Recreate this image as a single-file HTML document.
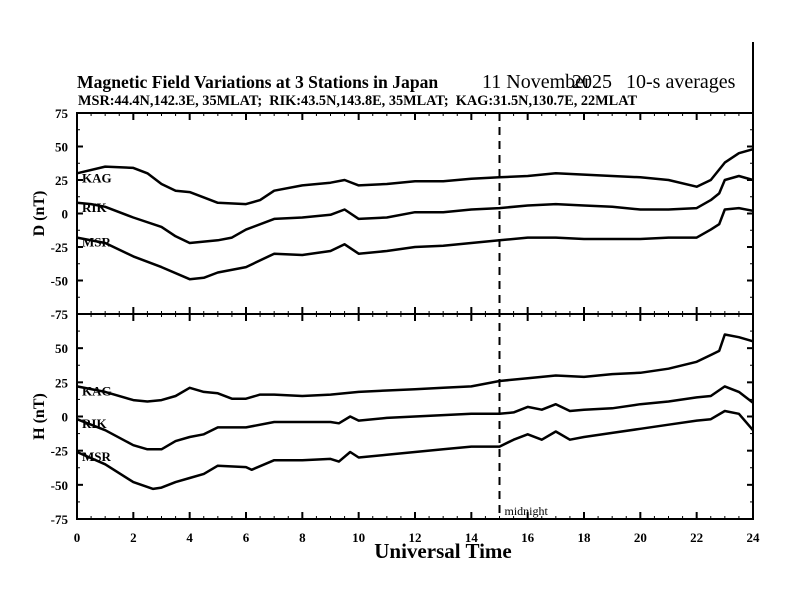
<!DOCTYPE html>
<html><head><meta charset="utf-8"><style>
body{margin:0;background:#fff;}
svg{display:block;font-family:"Liberation Serif",serif;}
</style></head><body>
<svg id="chart" width="792" height="612" viewBox="0 0 792 612">
<text x="77" y="88" font-size="17.6" font-weight="bold">Magnetic Field Variations at 3 Stations in Japan</text>
<text x="482" y="88" font-size="20">11 November</text>
<text x="572" y="88" font-size="20">2025</text>
<text x="626" y="88" font-size="20">10-s averages</text>
<text x="78" y="105" font-size="14.3" font-weight="bold" style="white-space:pre">MSR:44.4N,142.3E, 35MLAT;  RIK:43.5N,143.8E, 35MLAT;  KAG:31.5N,130.7E, 22MLAT</text>
<g id="axes"></g>
<g id="series"></g>
</svg>
<script>
const hours=[0,2,4,6,8,10,12,14,16,18,20,22,24];
const yTicks=[75,50,25,0,-25,-50,-75];
const dT_KAG=[[0,30],[1,35],[2,34],[2.5,30],[3,22],[3.5,17],[4,16],[4.5,12],[5,8],[6,7],[6.5,10],[7,17],[8,21],[9,23],[9.5,25],[10,21],[11,22],[12,24],[13,24],[14,26],[15,27],[16,28],[17,30],[18,29],[19,28],[20,27],[21,25],[22,20],[22.5,25],[23,38],[23.5,45],[24,48]];
const dT_RIK=[[0,8],[0.5,7],[1,5],[2,-3],[3,-10],[3.5,-17],[4,-22],[5,-20],[5.5,-18],[6,-12],[7,-4],[8,-3],[9,-1],[9.5,3],[10,-4],[11,-3],[12,1],[13,1],[14,3],[15,4],[16,6],[17,7],[18,6],[19,5],[20,3],[21,3],[22,4],[22.5,10],[22.8,15],[23,25],[23.5,28],[24,25]];
const dT_MSR=[[0,-18],[1,-22],[2,-32],[3,-40],[4,-49],[4.5,-48],[5,-44],[6,-40],[7,-30],[8,-31],[9,-28],[9.5,-23],[10,-30],[11,-28],[12,-25],[13,-24],[14,-22],[15,-20],[16,-18],[17,-18],[18,-19],[19,-19],[20,-19],[21,-18],[22,-18],[22.5,-12],[22.8,-8],[23,3],[23.5,4],[24,2]];
const hT_KAG=[[0,22],[1,18],[2,12],[2.5,11],[3,12],[3.5,15],[4,21],[4.5,18],[5,17],[5.5,13],[6,13],[6.5,16],[7,16],[8,15],[9,16],[9.5,17],[10,18],[11,19],[12,20],[13,21],[14,22],[15,26],[16,28],[17,30],[18,29],[19,31],[20,32],[21,35],[22,40],[22.5,45],[22.8,48],[23,60],[23.5,58],[24,55]];
const hT_RIK=[[0,-2],[1,-10],[2,-21],[2.5,-24],[3,-24],[3.5,-18],[4,-15],[4.5,-13],[5,-8],[6,-8],[7,-4],[8,-4],[9,-4],[9.3,-5],[9.7,0],[10,-3],[11,-1],[12,0],[13,1],[14,2],[15,2],[15.5,3],[16,7],[16.5,5],[17,9],[17.5,4],[18,5],[19,6],[20,9],[21,11],[22,14],[22.5,15],[23,22],[23.5,18],[24,10]];
const hT_MSR=[[0,-26],[1,-35],[2,-48],[2.7,-53],[3,-52],[3.5,-48],[4,-45],[4.5,-42],[5,-36],[6,-37],[6.2,-39],[7,-32],[8,-32],[9,-31],[9.3,-33],[9.7,-26],[10,-30],[11,-28],[12,-26],[13,-24],[14,-22],[15,-22],[15.5,-17],[16,-13],[16.5,-17],[17,-11],[17.5,-17],[18,-15],[19,-12],[20,-9],[21,-6],[22,-3],[22.5,-2],[23,4],[23.5,2],[24,-10]];
const NS="http://www.w3.org/2000/svg";
const X0=77,X1=753;
const panels=[{top:113,bot:314,name:'d-panel',label:'D (nT)'},{top:314,bot:519,name:'h-panel',label:'H (nT)'}];
function xs(h){return X0+(X1-X0)*h/24;}
function ys(p,v){return p.bot-(v+75)/150*(p.bot-p.top);}
function mk(tag,attrs,parent){const e=document.createElementNS(NS,tag);for(const k in attrs)e.setAttribute(k,attrs[k]);parent.appendChild(e);return e;}
const ax=document.getElementById('axes'),sg=document.getElementById('series');
let f=mk('rect',{x:X0,y:113,width:X1-X0,height:406,fill:'none',stroke:'#000','stroke-width':2},ax);


let rl=mk('line',{x1:X1,y1:42,x2:X1,y2:113,stroke:'#000','stroke-width':2},ax);


let ml=mk('line',{x1:X0,y1:314,x2:X1,y2:314,stroke:'#000','stroke-width':2},ax);


panels.forEach(p=>{
  for(let h=0;h<=24;h+=0.5){const major=h%2===0;const L=major?7:3;
    mk('line',{x1:xs(h),y1:p.top,x2:xs(h),y2:p.top+L,stroke:'#000','stroke-width':major?2:1},ax);
    mk('line',{x1:xs(h),y1:p.bot,x2:xs(h),y2:p.bot-L,stroke:'#000','stroke-width':major?2:1},ax);}
  for(let v=-75;v<=75;v+=12.5){const major=v%25===0;const L=major?6:3;
    mk('line',{x1:X0,y1:ys(p,v),x2:X0+L,y2:ys(p,v),stroke:'#000','stroke-width':major?2:1},ax);
    mk('line',{x1:X1,y1:ys(p,v),x2:X1-L,y2:ys(p,v),stroke:'#000','stroke-width':major?2:1},ax);}
  yTicks.forEach(v=>{if(p.name==='h-panel'&&v===75)return;
    const t=mk('text',{x:68,y:ys(p,v)+5,'font-size':13,'font-weight':'bold','text-anchor':'end'},ax);t.textContent=v;
    
    });
  const yl=mk('text',{x:44,y:(p.top+p.bot)/2,'font-size':16,'font-weight':'bold','text-anchor':'middle',transform:`rotate(-90 44 ${(p.top+p.bot)/2})`},ax);
  yl.textContent=p.label;
  
  
});
hours.forEach(h=>{const t=mk('text',{x:xs(h),y:542,'font-size':13,'font-weight':'bold','text-anchor':'middle'},ax);t.textContent=h;
  
  });
const xt=mk('text',{x:443,y:558,'font-size':21,'font-weight':'bold','text-anchor':'middle'},ax);xt.textContent='Universal Time';


const dl=mk('line',{x1:xs(15),y1:113,x2:xs(15),y2:519,stroke:'#000','stroke-width':2,'stroke-dasharray':'8,6'},ax);


const mt=mk('text',{x:xs(15)+5,y:515,'font-size':12},ax);mt.textContent='midnight';


const series=[[0,dT_KAG,'KAG'],[0,dT_RIK,'RIK'],[0,dT_MSR,'MSR'],[1,hT_KAG,'KAG'],[1,hT_RIK,'RIK'],[1,hT_MSR,'MSR']];
series.forEach(([pi,data,name])=>{const p=panels[pi];
  const d=data.map((pt,i)=>(i?'L':'M')+xs(pt[0]).toFixed(1)+','+ys(p,pt[1]).toFixed(1)).join(' ');
  const path=mk('path',{d:d,fill:'none',stroke:'#000','stroke-width':2.5,'stroke-linejoin':'round'},sg);
  
  
  const lab=mk('text',{x:82,y:ys(p,data[0][1])+9,'font-size':13,'font-weight':'bold'},sg);lab.textContent=name;
  
  
});
</script>
</body></html>
